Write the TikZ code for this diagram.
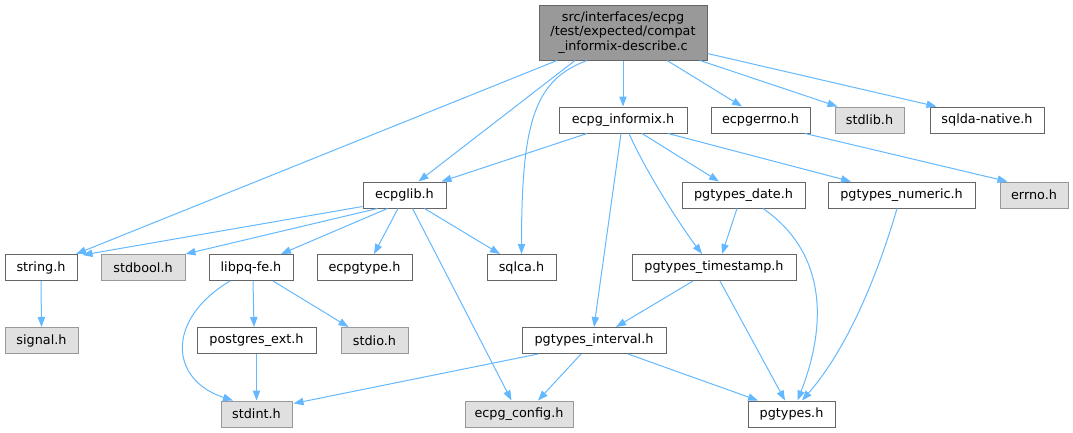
\documentclass[tikz,border=0pt]{standalone}
\usepackage{fontspec}
\setmainfont{DejaVu Sans}
\usetikzlibrary{arrows.meta,calc}
\definecolor{edgeblue}{HTML}{63B8FF}
\definecolor{boxline}{HTML}{666666}
\definecolor{sysline}{HTML}{999999}
\definecolor{sysfill}{HTML}{E0E0E0}
\definecolor{mainfill}{HTML}{999999}

\begin{document}
\begin{tikzpicture}[x=0.75pt,y=-0.75pt,
    file/.style={draw=boxline,fill=white,line width=0.75pt,minimum height=19.5pt,
      inner sep=0pt,font=\fontsize{9.6}{11}\selectfont},
    sys/.style={file,draw=sysline,fill=sysfill},
    dep/.style={edgeblue,line width=0.75pt,-{Triangle[length=7.5pt,width=5.5pt]}}]
  \useasboundingbox (0,0) rectangle (1073,432);

  \node[file,fill=mainfill,minimum width=126pt,minimum height=41.25pt,align=center] (main) at (623,32.5)
    {src/interfaces/ecpg\\/test/expected/compat\\\_informix-describe.c};

  \node[file,minimum width=96pt]    (informix)  at (623,120)   {ecpg\_informix.h};
  \node[file,minimum width=74.25pt] (ecpgerrno) at (760.5,120) {ecpgerrno.h};
  \node[sys,minimum width=51.75pt]  (stdlib)    at (869.5,120) {stdlib.h};
  \node[file,minimum width=85.5pt]  (sqlda)     at (987,120)   {sqlda-native.h};

  \node[file,minimum width=62.25pt] (ecpglib)   at (404.5,195) {ecpglib.h};
  \node[file,minimum width=92.25pt] (date)      at (743.5,195) {pgtypes\_date.h};
  \node[file,minimum width=110.25pt](numeric)   at (901.5,195) {pgtypes\_numeric.h};
  \node[sys,minimum width=51pt]     (errno)     at (1034,195)  {errno.h};

  \node[file,minimum width=54pt]    (string)    at (41,267.5)  {string.h};
  \node[sys,minimum width=63pt]     (stdbool)   at (143,267.5) {stdbool.h};
  \node[file,minimum width=63pt]    (libpq)     at (251,267.5) {libpq-fe.h};
  \node[file,minimum width=71.25pt] (ecpgtype)  at (364.5,267.5) {ecpgtype.h};
  \node[file,minimum width=51.75pt] (sqlca)     at (521.5,267.5) {sqlca.h};
  \node[file,minimum width=123pt]   (timestamp) at (714,267.5) {pgtypes\_timestamp.h};

  \node[sys,minimum width=54.75pt]  (signal)    at (41.5,340.5)  {signal.h};
  \node[file,minimum width=89.25pt] (pgext)     at (256.5,340.5) {postgres\_ext.h};
  \node[sys,minimum width=50.25pt]  (stdio)     at (374.5,340.5) {stdio.h};
  \node[file,minimum width=108pt]   (interval)  at (594,340.5)   {pgtypes\_interval.h};

  \node[sys,minimum width=53.25pt]  (stdint)    at (256.5,414) {stdint.h};
  \node[sys,minimum width=81pt]     (config)    at (519,414)   {ecpg\_config.h};
  \node[file,minimum width=65.25pt] (pgtypes)   at (791.5,414) {pgtypes.h};

  \draw[dep] (main.south) -- (informix.north);
  \draw[dep] ($(main.south)+(-48,0)$) -- ($(ecpglib.north)+(14,0)$);
  \draw[dep] ($(main.south)+(-66,0)$) -- ($(string.north)+(35,0)$);
  \draw[dep] ($(main.south)+(-36,0)$) .. controls (535,80) and (521.5,120) .. (sqlca.north);
  \draw[dep] ($(main.south)+(44,0)$) -- ($(ecpgerrno.north)+(-18.5,0)$);
  \draw[dep] ($(main.south)+(77,0)$) -- ($(stdlib.north west)+(3,0)$);
  \draw[dep] ($(main.south east)+(0,-7)$) -- ($(sqlda.north west)+(7,0)$);

  \draw[dep] ($(informix.south)+(-36,0)$) -- ($(ecpglib.north east)+(-5,0)$);
  \draw[dep] ($(informix.south)+(19,0)$) -- ($(date.north)+(-24.5,0)$);
  \draw[dep] ($(informix.south)+(45,0)$) -- ($(numeric.north)+(-50.5,0)$);
  \draw[dep] ($(informix.south)+(6,0)$) .. controls (645,170) and (680,225) .. ($(timestamp.north)+(-12,0)$);
  \draw[dep] ($(informix.south)+(-2,0)$) -- (interval.north);
  \draw[dep] ($(ecpgerrno.south)+(44.5,0)$) -- ($(errno.north west)+(8,0)$);

  \draw[dep] ($(date.south)+(-6.5,0)$) -- ($(timestamp.north)+(8,0)$);
  \draw[dep] ($(date.south)+(19.5,0)$) .. controls (830,255) and (825,330) .. ($(pgtypes.north)+(6,0)$);
  \draw[dep] ($(numeric.south)+(-4.5,0)$) .. controls (885,250) and (855,340) .. ($(pgtypes.north)+(10.5,0)$);
  \draw[dep] ($(timestamp.south)+(-21,0)$) -- ($(interval.north)+(22,0)$);
  \draw[dep] ($(timestamp.south)+(6,0)$) -- ($(pgtypes.north)+(-6.5,0)$);

  \draw[dep] ($(interval.south)+(-56,0)$) -- ($(stdint.north east)+(1,3)$);
  \draw[dep] ($(interval.south)+(-13,0)$) -- ($(config.north)+(19,0)$);
  \draw[dep] ($(interval.south)+(34,0)$) -- ($(pgtypes.north)+(-33.5,0)$);

  \draw[dep] ($(ecpglib.south west)+(0,-2)$) -- ($(string.north east)+(5,1)$);
  \draw[dep] ($(ecpglib.south)+(-27,0)$) -- (stdbool.north east);
  \draw[dep] ($(ecpglib.south)+(-17,0)$) -- ($(libpq.north)+(30,0)$);
  \draw[dep] ($(ecpglib.south)+(-6.5,0)$) -- ($(ecpgtype.north)+(9.5,0)$);
  \draw[dep] ($(ecpglib.south)+(20,0)$) -- ($(sqlca.north)+(-21.5,0)$);
  \draw[dep] ($(ecpglib.south)+(8,0)$) -- ($(config.north)+(-7.5,0)$);

  \draw[dep] (string.south) -- (signal.north);
  \draw[dep] ($(libpq.south)+(-21,0)$) .. controls (165,320) and (170,380) .. ($(stdint.north)+(-23.5,0)$);
  \draw[dep] ($(libpq.south)+(2,0)$) -- ($(pgext.north)+(-2.5,0)$);
  \draw[dep] ($(libpq.south)+(22,0)$) -- ($(stdio.north)+(-26,0)$);
  \draw[dep] (pgext.south) -- (stdint.north);
\end{tikzpicture}
\end{document}
